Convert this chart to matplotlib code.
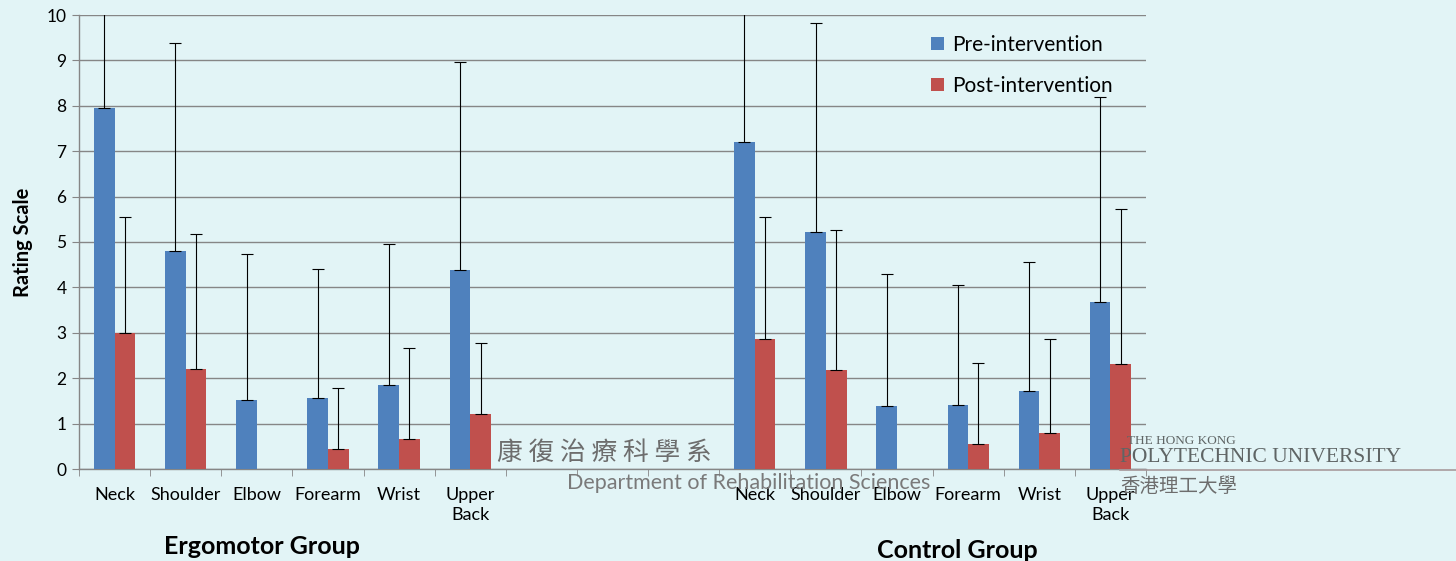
import numpy as np
import matplotlib.pyplot as plt

# categories (two groups of six body regions, separated by an empty gap)
regions = ['Neck', 'Shoulder', 'Elbow', 'Forearm', 'Wrist', 'Upper\nBack']
groups = ['Ergomotor Group', 'Control Group']

# Ergomotor group
ergo_pre = [7.95, 4.80, 1.51, 1.56, 1.84, 4.38]
ergo_pre_err = [3.20, 4.58, 3.22, 2.85, 3.11, 4.58]
ergo_post = [3.00, 2.20, 0.0, 0.43, 0.65, 1.21]
ergo_post_err = [2.54, 2.97, 0.0, 1.35, 2.01, 1.57]

# Control group
ctrl_pre = [7.20, 5.21, 1.39, 1.41, 1.72, 3.67]
ctrl_pre_err = [3.40, 4.61, 2.90, 2.64, 2.85, 4.52]
ctrl_post = [2.86, 2.18, 0.0, 0.55, 0.79, 2.31]
ctrl_post_err = [2.68, 3.08, 0.0, 1.78, 2.07, 3.41]

blue = '#4F81BD'
red = '#C0504D'
bg = '#e2f4f6'

plt.rcParams['font.family'] = ['Lato', 'DejaVu Sans']

fig = plt.figure(figsize=(14.56, 5.61), dpi=100, facecolor=bg)
ax = fig.add_axes([79 / 1456, 1 - 469 / 561, (1146 - 79) / 1456, (469 - 15) / 561])
ax.set_facecolor('none')

pos_ergo = np.arange(6)
pos_ctrl = np.arange(9, 15)
x = np.concatenate([pos_ergo, pos_ctrl])
pre = np.array(ergo_pre + ctrl_pre)
pre_err = np.array(ergo_pre_err + ctrl_pre_err)
post = np.array(ergo_post + ctrl_post)
post_err = np.array(ergo_post_err + ctrl_post_err)

w = 0.29
ax.bar(x - w / 2, pre, w, color=blue, label='Pre-intervention', zorder=3)
ax.bar(x + w / 2, post, w, color=red, label='Post-intervention', zorder=3)

# upper error bars only (skip empty bars)
m = post > 0
ax.errorbar(x - w / 2, pre, yerr=[np.zeros_like(pre), pre_err], fmt='none',
            ecolor='black', elinewidth=0.8, capsize=4, capthick=0.8, zorder=4)
ax.errorbar((x + w / 2)[m], post[m], yerr=[np.zeros(m.sum()), post_err[m]], fmt='none',
            ecolor='black', elinewidth=0.8, capsize=4, capthick=0.8, zorder=4)

ax.set_xlim(-0.5, 14.5)
ax.set_ylim(0, 10)
ax.set_yticks(range(0, 11))
ax.tick_params(axis='y', labelsize=12.5, length=5, color='#868686', pad=4)
ax.yaxis.grid(True, color='#868686', linewidth=1, zorder=0)
ax.set_axisbelow(True)

ax.set_xticks(x)
ax.set_xticklabels(regions * 2, fontsize=13, linespacing=1.3)
ax.tick_params(axis='x', length=0, pad=13)
ax.set_xticks(np.arange(-0.5, 15, 1), minor=True)
ax.tick_params(axis='x', which='minor', length=5, color='#868686')

for s in ['top', 'right']:
    ax.spines[s].set_visible(False)
for s in ['left', 'bottom']:
    ax.spines[s].set_color('#868686')
    ax.spines[s].set_linewidth(1)

ax.set_ylabel('Rating Scale', fontsize=14.5, fontweight='bold', labelpad=10)

fig.text(262 / 1456, 1 - 546 / 561, groups[0], fontsize=18, fontweight='bold',
         ha='center', va='center')
fig.text(957 / 1456, 1 - 550 / 561, groups[1], fontsize=18, fontweight='bold',
         ha='center', va='center')

# faint watermark logo texts from the slide background
cjk = ['Noto Sans CJK TC', 'DejaVu Sans']
fig.text(497 / 1456, 1 - 453 / 561, '康 復 治 療 科 學 系', fontsize=18.5, color='#6d6d6d',
         family=cjk, va='center', zorder=0)
fig.text(567 / 1456, 1 - 483 / 561, 'Department of Rehabilitation Sciences', fontsize=15.5,
         color='#7a7a7a', va='center', zorder=0)
fig.text(1127 / 1456, 1 - 441 / 561, 'THE HONG KONG', fontsize=9.5, color='#5f6565',
         family='Liberation Serif', va='center', zorder=0)
fig.text(1120 / 1456, 1 - 458 / 561, 'POLYTECHNIC UNIVERSITY', fontsize=15.5, color='#5f6565',
         family='Liberation Serif', va='center', zorder=0)
fig.text(1120 / 1456, 1 - 486 / 561, '香港理工大學', fontsize=14, color='#6d6d6d',
         family=cjk, va='center', zorder=0)
fig.add_artist(plt.Line2D([1120 / 1456, 1.0], [1 - 470 / 561] * 2, color='#a89a9c', lw=1.2))

ax.legend(loc='upper left', bbox_to_anchor=(0.781, 0.997), frameon=False, fontsize=15,
          handlelength=0.6, handleheight=0.6, handletextpad=0.4, labelspacing=1.0)

fig.savefig('out.png', dpi=100, facecolor=bg)
